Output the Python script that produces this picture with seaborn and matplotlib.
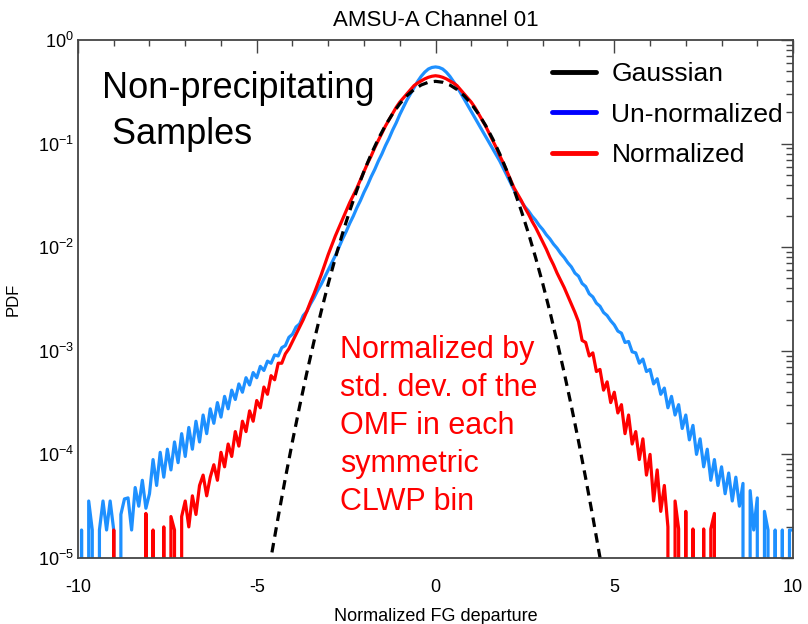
import numpy as np
import pandas as pd
import seaborn as sns
import matplotlib.pyplot as plt
from matplotlib.lines import Line2D
from matplotlib.ticker import LogLocator, MultipleLocator, NullFormatter

# bin centres of the histogram (step 0.1)
bins = np.round(np.arange(-10.0, 10.001, 0.1), 1)

# log10(PDF), nan = empty bin
blue_log = [
    np.nan, -4.73, np.nan, -4.45, -4.73, np.nan, -4.73, -4.45, -4.73, -4.45,   # -10.0 .. -9.1
    -4.73, np.nan, -4.58, -4.43, -4.42, -4.73, -4.32, -4.50, -4.25, -4.52,     # -9.0 .. -8.1
    -4.38, -4.05, -4.30, -3.98, -4.22, -3.95, -4.15, -3.88, -4.08, -3.80,      # -8.0 .. -7.1
    -4.02, -3.74, -3.95, -3.68, -3.88, -3.62, -3.80, -3.56, -3.70, -3.50,      # -7.0 .. -6.1
    -3.64, -3.44, -3.56, -3.38, -3.47, -3.32, -3.40, -3.26, -3.33, -3.21,      # -6.0 .. -5.1
    -3.26, -3.15, -3.19, -3.10, -3.12, -3.04, -3.05, -2.97, -2.95, -2.87,      # -5.0 .. -4.1
    -2.84, -2.77, -2.74, -2.66, -2.62, -2.55, -2.49, -2.42, -2.36, -2.29,      # -4.0 .. -3.1
    -2.22, -2.15, -2.08, -2.00, -1.92, -1.85, -1.77, -1.70, -1.62, -1.55,      # -3.0 .. -2.1
    -1.47, -1.40, -1.32, -1.25, -1.17, -1.10, -1.02, -0.95, -0.87, -0.80,      # -2.0 .. -1.1
    -0.72, -0.65, -0.58, -0.52, -0.46, -0.40, -0.35, -0.31, -0.28, -0.265,     # -1.0 .. -0.1
    -0.26,                                                                     # 0.0
    -0.265, -0.28, -0.31, -0.35, -0.40, -0.45, -0.51, -0.57, -0.63, -0.69,     # 0.1 .. 1.0
    -0.75, -0.81, -0.87, -0.93, -0.99, -1.05, -1.11, -1.17, -1.24, -1.31,      # 1.1 .. 2.0
    -1.38, -1.45, -1.51, -1.56, -1.61, -1.65, -1.70, -1.74, -1.79, -1.83,      # 2.1 .. 3.0
    -1.88, -1.92, -1.97, -2.01, -2.06, -2.10, -2.15, -2.19, -2.25, -2.28,      # 3.1 .. 4.0
    -2.35, -2.38, -2.45, -2.48, -2.54, -2.57, -2.63, -2.66, -2.71, -2.75,      # 4.1 .. 5.0
    -2.81, -2.83, -2.92, -2.91, -3.01, -3.02, -3.12, -3.08, -3.20, -3.18,      # 5.1 .. 6.0
    -3.32, -3.27, -3.42, -3.36, -3.55, -3.44, -3.62, -3.52, -3.75, -3.62,      # 6.1 .. 7.0
    -3.86, -3.72, -4.00, -3.85, -4.12, -3.95, -4.25, -4.05, -4.30, -4.12,      # 7.1 .. 8.0
    -4.38, -4.18, -4.45, -4.22, -4.50, -4.28, np.nan, -4.35, -4.73, -4.42,     # 8.1 .. 9.0
    np.nan, -4.55, -4.73, np.nan, -4.73, np.nan, -4.73, np.nan, -4.73, -4.73,  # 9.1 .. 10.0
]

red_log = [
    np.nan, np.nan, np.nan, np.nan, np.nan, np.nan, np.nan, np.nan, np.nan, np.nan,  # -10.0 .. -9.1
    -4.73, np.nan, np.nan, np.nan, np.nan, np.nan, np.nan, np.nan, np.nan, -4.57,    # -9.0 .. -8.1
    np.nan, -4.73, np.nan, np.nan, -4.70, np.nan, -4.60, -4.73, np.nan, -4.60,       # -8.0 .. -7.1
    -4.45, -4.70, -4.40, -4.58, -4.30, -4.20, -4.40, -4.22, -4.10, -4.25,            # -7.0 .. -6.1
    -3.98, -4.12, -3.90, -4.02, -3.78, -3.92, -3.68, -3.78, -3.58, -3.68,            # -6.0 .. -5.1
    -3.48, -3.55, -3.35, -3.42, -3.24, -3.28, -3.12, -3.12, -3.03, -2.98,            # -5.0 .. -4.1
    -2.91, -2.84, -2.77, -2.70, -2.62, -2.53, -2.45, -2.36, -2.27, -2.17,            # -4.0 .. -3.1
    -2.07, -1.98, -1.89, -1.81, -1.73, -1.65, -1.57, -1.50, -1.43, -1.35,            # -3.0 .. -2.1
    -1.27, -1.19, -1.12, -1.04, -0.97, -0.90, -0.83, -0.77, -0.71, -0.65,            # -2.0 .. -1.1
    -0.60, -0.56, -0.52, -0.48, -0.44, -0.415, -0.395, -0.375, -0.36, -0.35,         # -1.0 .. -0.1
    -0.345,                                                                          # 0.0
    -0.35, -0.36, -0.375, -0.395, -0.415, -0.44, -0.48, -0.52, -0.56, -0.60,         # 0.1 .. 1.0
    -0.65, -0.71, -0.77, -0.83, -0.90, -0.97, -1.04, -1.12, -1.19, -1.27,            # 1.1 .. 2.0
    -1.35, -1.43, -1.49, -1.55, -1.62, -1.68, -1.75, -1.81, -1.88, -1.95,            # 2.1 .. 3.0
    -2.02, -2.10, -2.17, -2.25, -2.32, -2.39, -2.47, -2.55, -2.63, -2.72,            # 3.1 .. 4.0
    -2.90, -2.92, -3.05, -3.02, -3.20, -3.18, -3.38, -3.30, -3.50, -3.40,            # 4.1 .. 5.0
    -3.60, -3.52, -3.80, -3.62, -3.90, -3.78, -4.05, -3.85, -4.20, -4.00,            # 5.1 .. 6.0
    -4.45, -4.15, -4.55, -4.30, -4.70, np.nan, -4.45, -4.72, np.nan, -4.55,          # 6.1 .. 7.0
    np.nan, -4.72, np.nan, np.nan, -4.72, np.nan, -4.72, -4.57, np.nan, np.nan,      # 7.1 .. 8.0
    np.nan, np.nan, np.nan, np.nan, np.nan, np.nan, np.nan, np.nan, np.nan, np.nan,  # 8.1 .. 9.0
    np.nan, np.nan, np.nan, np.nan, np.nan, np.nan, np.nan, np.nan, np.nan, np.nan,  # 9.1 .. 10.0
]

# dashed reference curve
gauss_x = [-4.8, -4.6, -4.4, -4.2, -4.0, -3.8, -3.6, -3.4, -3.2, -3.0, -2.8, -2.6,
           -2.4, -2.2, -2.0, -1.8, -1.6, -1.4, -1.2, -1.0, -0.8, -0.6, -0.4, -0.2,
           0.0, 0.2, 0.4, 0.6, 0.8, 1.0, 1.2, 1.4, 1.6, 1.8, 2.0, 2.2, 2.4, 2.6,
           2.8, 3.0, 3.2, 3.4, 3.6, 3.8, 4.0, 4.2, 4.4, 4.6, 4.8]
gauss_pdf = [3.96e-6, 1.01e-5, 2.49e-5, 5.89e-5, 1.34e-4, 2.92e-4, 6.12e-4, 1.23e-3,
             2.38e-3, 4.44e-3, 7.92e-3, 1.36e-2, 2.24e-2, 3.55e-2, 5.40e-2, 7.90e-2,
             0.111, 0.150, 0.194, 0.242, 0.290, 0.333, 0.368, 0.391,
             0.399, 0.391, 0.368, 0.333, 0.290, 0.242, 0.194, 0.150,
             0.111, 7.90e-2, 5.40e-2, 3.55e-2, 2.24e-2, 1.36e-2, 7.92e-3, 4.44e-3,
             2.38e-3, 1.23e-3, 6.12e-4, 2.92e-4, 1.34e-4, 5.89e-5, 2.49e-5, 1.01e-5, 3.96e-6]

blue_pdf = np.where(np.isnan(blue_log), 0.0, 10.0 ** np.array(blue_log))
red_pdf = np.where(np.isnan(red_log), 0.0, 10.0 ** np.array(red_log))

df = pd.DataFrame({
    "x": np.concatenate([bins, bins]),
    "pdf": np.concatenate([blue_pdf, red_pdf]),
    "kind": ["Un-normalized"] * len(bins) + ["Normalized"] * len(bins),
})
gdf = pd.DataFrame({"x": gauss_x, "pdf": gauss_pdf})

sns.set_style("white")
plt.rcParams["font.family"] = ["Liberation Sans", "DejaVu Sans"]
plt.rcParams["mathtext.default"] = "regular"
plt.rcParams["axes.unicode_minus"] = False
plt.rcParams["text.color"] = "black"
plt.rcParams["axes.labelcolor"] = "black"
plt.rcParams["xtick.color"] = "black"
plt.rcParams["ytick.color"] = "black"

fig = plt.figure(figsize=(8.08, 6.24), dpi=100)
ax = fig.add_axes([0.0965, 0.1058, 0.885, 0.8301])

sns.lineplot(data=df, x="x", y="pdf", hue="kind",
             palette={"Un-normalized": "#1E90FF", "Normalized": "#FF0000"},
             estimator=None, sort=False, legend=False, lw=2.3, ax=ax)
sns.lineplot(data=gdf, x="x", y="pdf", color="black", lw=2.3,
             linestyle=(0, (3, 2)), estimator=None, sort=False, ax=ax)

ax.set_yscale("log")
ax.set_xlim(-10, 10)
ax.set_ylim(1e-5, 1)

ax.xaxis.set_major_locator(MultipleLocator(5))
ax.xaxis.set_minor_locator(MultipleLocator(1))
ax.yaxis.set_major_locator(LogLocator(base=10))
ax.yaxis.set_minor_locator(LogLocator(base=10, subs=np.arange(2, 10)))
ax.yaxis.set_minor_formatter(NullFormatter())
ax.tick_params(which="both", direction="in", top=True, right=True, color="#444444")
ax.tick_params(axis="x", which="major", length=9, width=1, labelsize=13, pad=15)
ax.tick_params(axis="x", which="minor", length=4, width=1)
ax.tick_params(axis="y", which="major", length=9, width=1, labelsize=13, pad=3)
ax.tick_params(axis="y", which="minor", length=5, width=1)
for s in ax.spines.values():
    s.set_color("#444444")
    s.set_linewidth(1.3)

ax.set_xlabel("Normalized FG departure", fontsize=13, labelpad=9)
ax.set_ylabel("PDF", fontsize=12, labelpad=12)
ax.set_title("AMSU-A Channel 01", fontsize=16, pad=10)

ax.text(0.034, 0.94, "Non-precipitating\n Samples", transform=ax.transAxes,
        fontsize=26, va="top", ha="left", linespacing=1.4)
ax.text(0.367, 0.43, "Normalized by\nstd. dev. of the\nOMF in each\nsymmetric\nCLWP bin",
        transform=ax.transAxes, fontsize=22, color="#FF0000", va="top", ha="left",
        linespacing=1.34)

handles = [Line2D([], [], color="black", lw=3.5),
           Line2D([], [], color="#0000FF", lw=3.5),
           Line2D([], [], color="#FF0000", lw=3.5)]
ax.legend(handles, ["Gaussian", "Un-normalized", "Normalized"], loc="upper left",
          bbox_to_anchor=(0.663, 0.957), frameon=False, fontsize=19, handlelength=1.65,
          handletextpad=0.6, labelspacing=0.62, borderpad=0, borderaxespad=0)

fig.savefig("out.png", dpi=100)
